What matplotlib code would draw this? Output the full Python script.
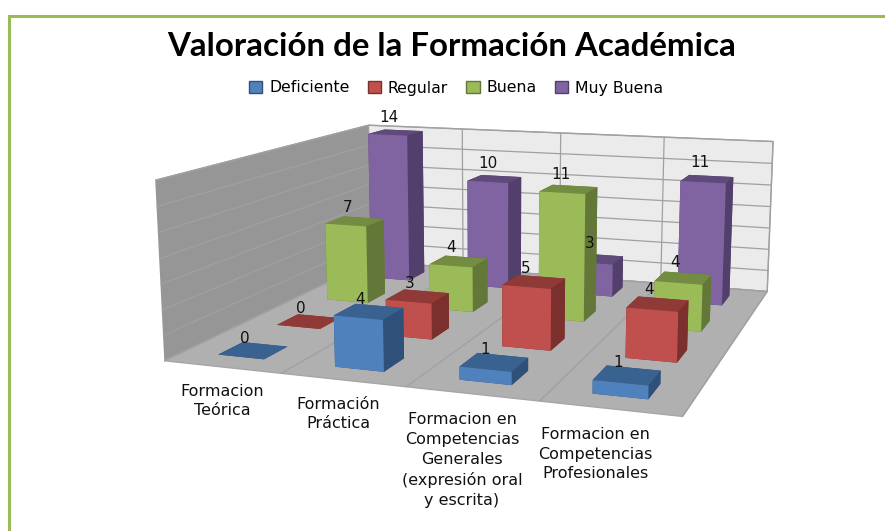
import matplotlib
matplotlib.use('Agg')
import matplotlib.pyplot as plt
from matplotlib.patches import Patch, Rectangle

categories = ['Formacion\nTeórica', 'Formación\nPráctica',
              'Formacion en\nCompetencias\nGenerales\n(expresión oral\ny escrita)',
              'Formacion en\nCompetencias\nProfesionales']
series_names = ['Deficiente', 'Regular', 'Buena', 'Muy Buena']
deficiente = [0, 4, 1, 1]
regular = [0, 3, 5, 4]
buena = [7, 4, 11, 4]
muy_buena = [14, 10, 3, 11]
series = [deficiente, regular, buena, muy_buena]

face_cols = ['#4f81bd', '#c0504d', '#9bbb59', '#8064a2']
top_cols = ['#3a6291', '#903a38', '#748c42', '#5f4a7a']
side_cols = ['#2f5078', '#7b302e', '#637838', '#533f6b']
title = 'Valoración de la Formación Académica'

fig = plt.figure(figsize=(8.85, 5.31), dpi=100)
fig.patch.set_facecolor('white')
# these view numbers were fitted to the corners of the reference box
ax = fig.add_axes([0.1013, 0.0823, 0.9, 0.9], projection='3d', computed_zorder=False)
ax.patch.set_visible(False)
ax.set_xlim(0, 4)
ax.set_ylim(0, 4)
ax.set_zlim(0, 14)
ax.view_init(11.3777, -70.5458, 0.0669)
ax.set_proj_type('persp', focal_length=0.4779 / 0.9)
ax.set_box_aspect((1, 0.9482, 0.3478), zoom=1.2483 / 0.9)

ax.xaxis.set_pane_color('#969696')
ax.yaxis.set_pane_color('#ebebeb')
ax.zaxis.set_pane_color('#b0b0b0')
ax.set_xticks(range(5))
ax.set_yticks([])
ax.set_zticks(range(0, 15, 2))
ax.set_xticklabels([])
ax.set_zticklabels([])
for axis in (ax.xaxis, ax.yaxis, ax.zaxis):
    axis.line.set_color((1, 1, 1, 0))
    axis.pane.set_edgecolor('#a6a6a6')
    axis.label.set_visible(False)
    for t in axis.get_major_ticks():
        t.label1.set_visible(False)
    axis._axinfo['tick']['inward_factor'] = 0
    axis._axinfo['tick']['outward_factor'] = 0
    axis._axinfo['grid']['color'] = '#a0a0a0'
    axis._axinfo['grid']['linewidth'] = 0.9

bw = 0.4
for s, vals in enumerate(series):
    for c, v in enumerate(vals):
        cols = [side_cols[s], top_cols[s], face_cols[s], side_cols[s], side_cols[s], side_cols[s]]
        ax.bar3d(c + (1 - bw) / 2, s + (1 - bw) / 2, 0, bw, bw, v, color=cols, shade=False,
                 zorder=10 * (3 - s) + c + 1, clip_on=False)
        ax.text(c + 0.43, s + 0.5, v + 0.9 + 0.17 * s, str(v), ha='center', va='center', fontsize=11,
                color='#111111', zorder=100, clip_on=False)

for lab, x, y in zip(categories, [222, 338, 462, 595], [401, 414, 460, 454]):
    fig.text(x / 885, 1 - y / 531, lab, ha='center', va='center', fontsize=11.5, color='#111111',
             linespacing=1.39)

fig.text(452 / 885, 1 - 46 / 531, title, ha='center', va='center', fontsize=23.8,
         fontweight='bold', family='Lato', color='black')
handles = [Patch(facecolor=face_cols[i], edgecolor=side_cols[i], label=series_names[i]) for i in range(4)]
fig.legend(handles=handles, loc='center', bbox_to_anchor=(456 / 885, 1 - 88 / 531), ncol=4, frameon=False,
           fontsize=11.3, columnspacing=1.15, handlelength=0.85, handleheight=0.85, handletextpad=0.45)

fig.add_artist(Rectangle((8.5 / 885, -0.1), 1.2, 1.1 - 15.5 / 531, transform=fig.transFigure, fill=False,
                         edgecolor='#9bbb59', linewidth=2.2))
fig.savefig('out.png', dpi=100)
